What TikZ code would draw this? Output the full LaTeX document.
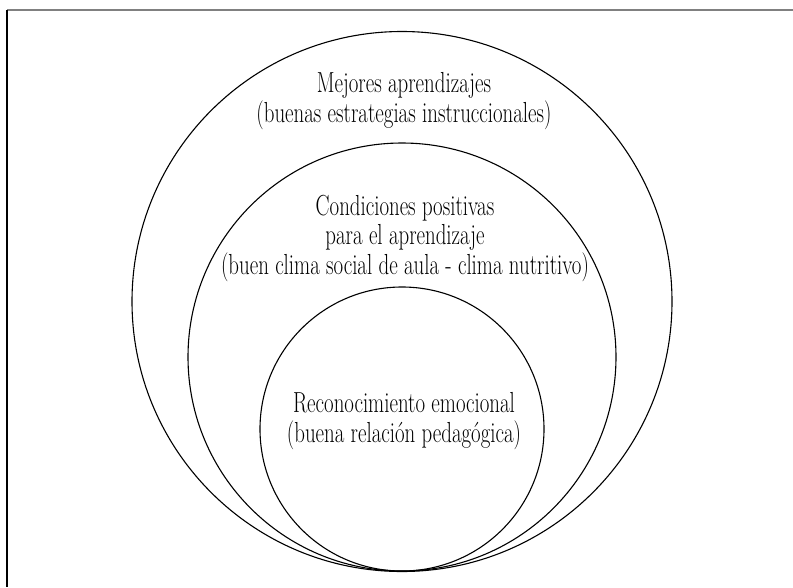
\documentclass[tikz,border=0pt]{standalone}
\usepackage{fontspec}
\setmainfont{Latin Modern Roman}[FakeStretch=0.72]
\usetikzlibrary{positioning}
\tikzstyle{ring} = [circle, draw=black, line width=1.1pt, inner sep=0pt]
\tikzstyle{ringtext} = [align=center, inner sep=0pt, font=\fontsize{29}{29.5}\selectfont]
\tikzstyle{frameline} = [line width=2pt]

\begin{document}
\begin{tikzpicture}[x=1pt, y=1pt]
  \useasboundingbox (0,0) rectangle (793,-587);

  % frame (top and left only)
  \coordinate (topleft) at (7,-10);
  \coordinate (topright) at (793,-10);
  \coordinate (bottomleft) at (7,-587);
  \draw[frameline, gray] (topleft) -- (topright);
  \draw[frameline] (topleft) -- (bottomleft);

  % nested rings, all touching at the bottom
  \foreach \name/\y/\d in {outer/301.5/540, middle/357/428, inner/429/284}
    \node[ring, minimum size=\d] (\name) at (402,-\y) {};

  \node[ringtext] (outertext) at (404,-101) {Mejores aprendizajes\\(buenas estrategias instruccionales)};
  \node[ringtext] (middletext) at (405,-238) {Condiciones positivas\\para el aprendizaje\\(buen clima social de aula - clima nutritivo)};
  \node[ringtext] (innertext) at (404,-421) {Reconocimiento emocional\\(buena relación pedagógica)};
\end{tikzpicture}
\end{document}
